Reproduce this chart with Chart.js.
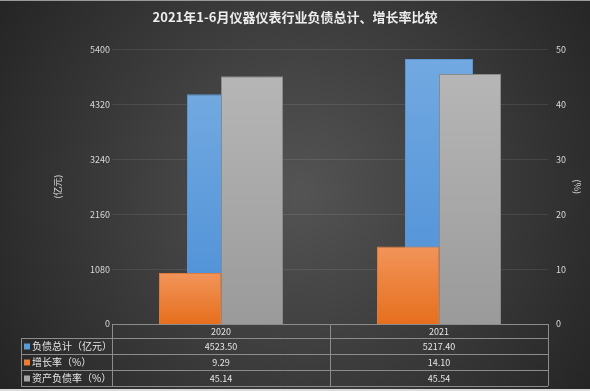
<!DOCTYPE html>
<html><head><meta charset="utf-8">
<script src="https://cdn.jsdelivr.net/npm/chart.js@4"></script>
<style>html,body{margin:0;padding:0;background:#2a2a2a;overflow:hidden}</style>
</head><body>
<canvas id="c" width="590" height="391" style="display:block;width:590px;height:391px"></canvas>
<script>
const categories = ['2020', '2021'];
const debtTotal = [4523.50, 5217.40];   // 负债总计（亿元）
const growthRate = [9.29, 14.10];       // 增长率（%）
const debtRatio = [45.14, 45.54];       // 资产负债率（%）
const seriesNames = ['负债总计（亿元）', '增长率（%）', '资产负债率（%）'];
const titleText = '2021年1-6月仪器仪表行业负债总计、增长率比较';

const FONT = "'Noto Sans CJK SC', 'Noto Sans', sans-serif";
const TXT = '#d9d9d9';
const seriesColors = ['#5b9bd5', '#ed7d31', '#a5a5a5'];

function barFill(top, bottom) {
  return (ctx) => {
    const chart = ctx.chart;
    if (ctx.type !== 'data' || !chart.chartArea) return bottom;
    const ds = chart.data.datasets[ctx.datasetIndex];
    const sc = chart.scales[ds.yAxisID];
    if (!sc) return bottom;
    const yTop = sc.getPixelForValue(ctx.raw);
    const yBase = sc.getPixelForValue(0);
    if (!isFinite(yTop) || !isFinite(yBase) || yTop === yBase) return bottom;
    const g = chart.ctx.createLinearGradient(0, yTop, 0, yBase);
    g.addColorStop(0, top);
    g.addColorStop(1, bottom);
    return g;
  };
}

const bgPlugin = {
  id: 'bg',
  beforeDraw(chart) {
    const { ctx, width, height } = chart;
    ctx.save();
    const g = ctx.createRadialGradient(300, 190, 0, 300, 190, 360);
    g.addColorStop(0, '#545454');
    g.addColorStop(1, '#242424');
    ctx.fillStyle = g;
    ctx.fillRect(0, 0, width, height);
    ctx.fillStyle = '#9a9a9a';
    ctx.fillRect(0, 0, width, 1);
    ctx.fillStyle = '#dcdcdc';
    ctx.fillRect(0, height - 2, width, 2);
    ctx.restore();
  }
};

const tablePlugin = {
  id: 'dataTable',
  afterDraw(chart) {
    const { ctx, chartArea } = chart;
    const xs = chart.scales.x;
    const left = chartArea.left, right = chartArea.right, top = chartArea.bottom;
    const legendLeft = 21;
    const rows = [top, top + 14, top + 30, top + 46, top + 62];
    const colEdges = [left];
    for (let i = 0; i < categories.length - 1; i++) {
      colEdges.push((xs.getPixelForValue(i) + xs.getPixelForValue(i + 1)) / 2);
    }
    colEdges.push(right);
    ctx.save();
    ctx.strokeStyle = '#8c8c8c';
    ctx.lineWidth = 1;
    ctx.beginPath();
    ctx.moveTo(left, rows[0] + 0.5); ctx.lineTo(right, rows[0] + 0.5);
    for (let r = 1; r < rows.length; r++) {
      ctx.moveTo(legendLeft, rows[r] + 0.5); ctx.lineTo(right, rows[r] + 0.5);
    }
    colEdges.forEach((x) => {
      const xx = Math.round(x) + 0.5;
      ctx.moveTo(xx, rows[0]); ctx.lineTo(xx, rows[rows.length - 1]);
    });
    ctx.moveTo(legendLeft + 0.5, rows[1]); ctx.lineTo(legendLeft + 0.5, rows[rows.length - 1]);
    ctx.stroke();

    ctx.fillStyle = '#e6e6e6';
    ctx.font = '9px ' + FONT;
    ctx.textBaseline = 'middle';
    ctx.textAlign = 'center';
    categories.forEach((c, i) => {
      ctx.fillText(c, (colEdges[i] + colEdges[i + 1]) / 2, (rows[0] + rows[1]) / 2 + 0.5);
    });
    const vals = [debtTotal, growthRate, debtRatio];
    vals.forEach((arr, r) => {
      const yc = (rows[r + 1] + rows[r + 2]) / 2 + 0.5;
      arr.forEach((v, i) => {
        ctx.textAlign = 'center';
        ctx.fillStyle = '#e6e6e6';
        ctx.fillText(v.toFixed(2), (colEdges[i] + colEdges[i + 1]) / 2, yc);
      });
      ctx.fillStyle = seriesColors[r];
      ctx.fillRect(legendLeft + 3, yc - 3, 6, 6);
      ctx.fillStyle = '#e6e6e6';
      ctx.textAlign = 'left';
      ctx.font = '10px ' + FONT;
      ctx.fillText(seriesNames[r], legendLeft + 11, yc);
      ctx.font = '9px ' + FONT;
    });
    ctx.restore();
  }
};

new Chart(document.getElementById('c'), {
  type: 'bar',
  data: {
    labels: categories,
    datasets: [
      {
        label: seriesNames[0], data: debtTotal, yAxisID: 'y', xAxisID: 'x',
        grouped: false, order: 1, categoryPercentage: 0.312, barPercentage: 1,
        backgroundColor: barFill('#72a9e1', '#4a8ed6'), borderColor: '#5a95d2', borderWidth: 1
      },
      {
        label: seriesNames[1], data: growthRate, yAxisID: 'y1', xAxisID: 'x',
        order: 0, categoryPercentage: 0.569, barPercentage: 1,
        backgroundColor: barFill('#f2945a', '#e66f1d'), borderColor: '#e07a3a', borderWidth: 1
      },
      {
        label: seriesNames[2], data: debtRatio, yAxisID: 'y1', xAxisID: 'x',
        order: 0, categoryPercentage: 0.569, barPercentage: 1,
        backgroundColor: barFill('#b6b6b6', '#9a9a9a'), borderColor: '#8a8a8a', borderWidth: 1
      }
    ]
  },
  options: {
    responsive: false,
    animation: false,
    devicePixelRatio: 1,
    layout: { padding: { left: 0, right: 0, top: 0, bottom: 67 } },
    plugins: {
      legend: { display: false },
      tooltip: { enabled: false },
      title: {
        display: true, text: titleText, color: '#ededed',
        font: { family: FONT, size: 13, weight: '600' },
        padding: { top: 9, bottom: 25 }
      }
    },
    scales: {
      x: { type: 'category', display: false, offset: true, grid: { display: false } },
      y: {
        position: 'left', min: 0, max: 5400,
        ticks: { stepSize: 1080, color: TXT, font: { family: FONT, size: 9 }, padding: 2, callback: (v) => String(v) },
        grid: { color: 'rgba(255,255,255,0.09)', drawTicks: false },
        border: { display: false },
        title: { display: true, text: '(亿元)', color: TXT, font: { family: FONT, size: 9 }, padding: { top: 52, bottom: 0 } },
        afterFit(s) { s.width = 112; }
      },
      y1: {
        position: 'right', min: 0, max: 50,
        ticks: { stepSize: 10, color: TXT, font: { family: FONT, size: 9 }, padding: 8, callback: (v) => String(v) },
        grid: { display: false, drawTicks: false },
        border: { display: false },
        title: { display: true, text: '(%)', color: TXT, font: { family: FONT, size: 9 }, padding: { top: 7, bottom: 0 } },
        afterFit(s) { s.width = 42; }
      }
    }
  },
  plugins: [bgPlugin, tablePlugin]
});
</script>
</body></html>
